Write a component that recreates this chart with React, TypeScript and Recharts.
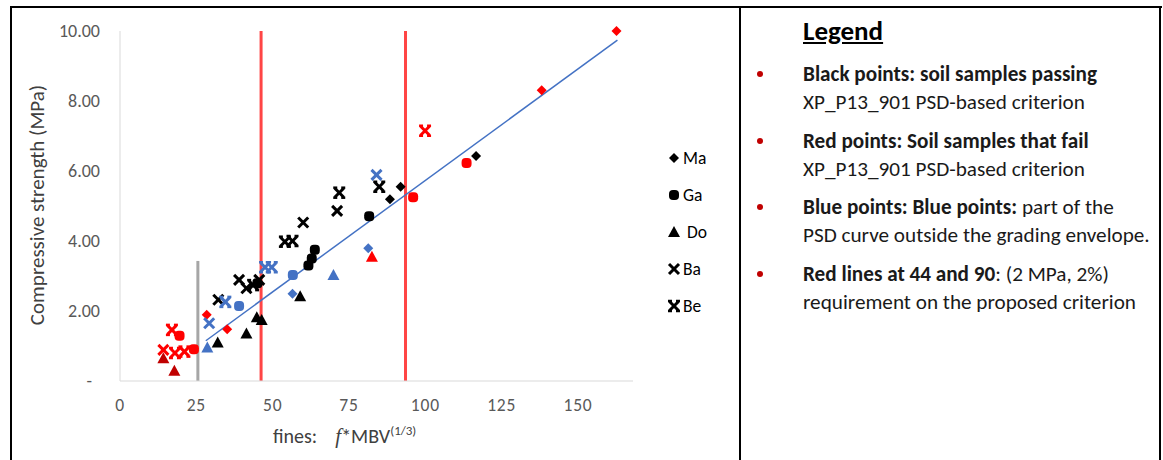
import React from 'react';
import { ReferenceLine, Scatter, ScatterChart, XAxis, YAxis } from 'recharts';

// group: 'pass' = black, 'fail' = red, 'failDark' = dark red, 'out' = blue
const maFines = [28.4, 35.1, 56.5, 81.3, 88.4, 91.9, 116.6, 138.1, 162.6];
const maStrength = [1.89, 1.48, 2.49, 3.79, 5.19, 5.55, 6.43, 8.31, 10.0];
const maGroup = ['fail', 'fail', 'out', 'out', 'pass', 'pass', 'pass', 'fail', 'fail'];

const gaFines = [19.5, 24.2, 39.0, 45.0, 56.6, 61.7, 62.8, 63.8, 81.6, 96.0, 113.5];
const gaStrength = [1.29, 0.91, 2.14, 2.79, 3.03, 3.3, 3.5, 3.75, 4.71, 5.25, 6.23];
const gaGroup = ['fail', 'fail', 'out', 'pass', 'out', 'pass', 'pass', 'pass', 'pass', 'fail', 'fail'];

const doFines = [14.2, 17.8, 28.6, 32.0, 41.4, 44.8, 46.4, 59.0, 69.9, 82.5];
const doStrength = [0.65, 0.29, 0.96, 1.1, 1.36, 1.82, 1.74, 2.42, 3.03, 3.55];
const doGroup = ['failDark', 'failDark', 'out', 'pass', 'pass', 'pass', 'pass', 'pass', 'out', 'fail'];

const baFines = [14.2, 29.2, 32.2, 39.0, 41.4, 45.6, 60.0, 71.1, 84.0];
const baStrength = [0.89, 1.65, 2.32, 2.89, 2.65, 2.89, 4.53, 4.86, 5.89];
const baGroup = ['fail', 'out', 'pass', 'pass', 'pass', 'pass', 'pass', 'pass', 'out'];

const beFines = [17.0, 18.0, 21.1, 34.5, 43.6, 47.5, 49.7, 54.0, 56.5, 71.8, 84.9, 99.9];
const beStrength = [1.46, 0.8, 0.84, 2.26, 2.74, 3.25, 3.25, 3.98, 4.0, 5.38, 5.55, 7.15];
const beGroup = ['fail', 'fail', 'fail', 'out', 'pass', 'out', 'out', 'pass', 'pass', 'pass', 'pass', 'fail'];

// linear trend (end points) and criterion lines, as drawn in the picture
const trendFines = [28.1, 162.9];
const trendStrength = [1.15, 9.74];
const criterionFines = [46.2, 93.5];
const gradingFines = 25.5;
const gradingTop = 3.43;

const xTicks = [0, 25, 50, 75, 100, 125, 150];
const yTicks = [0, 2, 4, 6, 8, 10];

const COLORS: Record<string, string> = {
  pass: '#000000',
  fail: '#ff0000',
  failDark: '#c00000',
  out: '#4472c4',
};

const FONT = 'Carlito, Calibri, "Open Sans", sans-serif';

function toPoints(xs: number[], ys: number[], gs: string[]) {
  return xs.map((x, i) => ({ x, y: ys[i], g: gs[i] }));
}

function drawMarker(kind: string, cx: number, cy: number, color: string) {
  if (kind === 'Ma') {
    const r = 5;
    return <polygon points={`${cx},${cy - r} ${cx + r},${cy} ${cx},${cy + r} ${cx - r},${cy}`} fill={color} />;
  }
  if (kind === 'Ga') {
    return <rect x={cx - 5} y={cy - 5} width={10} height={10} rx={4} fill={color} />;
  }
  if (kind === 'Do') {
    return <polygon points={`${cx},${cy - 6} ${cx + 6},${cy + 5} ${cx - 6},${cy + 5}`} fill={color} />;
  }
  if (kind === 'Ba') {
    const r = 5;
    return (
      <g stroke={color} strokeWidth={3}>
        <line x1={cx - r} y1={cy - r} x2={cx + r} y2={cy + r} />
        <line x1={cx - r} y1={cy + r} x2={cx + r} y2={cy - r} />
      </g>
    );
  }
  // Be: heavy x with flat serifs at its ends
  const r = 4.5;
  return (
    <g stroke={color}>
      <line x1={cx - r} y1={cy - r} x2={cx + r} y2={cy + r} strokeWidth={3} />
      <line x1={cx - r} y1={cy + r} x2={cx + r} y2={cy - r} strokeWidth={3} />
      <line x1={cx - r - 1.5} y1={cy - r - 0.5} x2={cx - r + 2.5} y2={cy - r - 0.5} strokeWidth={2.5} />
      <line x1={cx + r - 2.5} y1={cy - r - 0.5} x2={cx + r + 1.5} y2={cy - r - 0.5} strokeWidth={2.5} />
      <line x1={cx - r - 1.5} y1={cy + r + 0.5} x2={cx - r + 2.5} y2={cy + r + 0.5} strokeWidth={2.5} />
      <line x1={cx + r - 2.5} y1={cy + r + 0.5} x2={cx + r + 1.5} y2={cy + r + 0.5} strokeWidth={2.5} />
    </g>
  );
}

const shapeFor = (kind: string) => (props: any) => {
  const { cx, cy, payload } = props;
  if (cx == null || cy == null) return <g />;
  return drawMarker(kind, cx, cy, COLORS[payload.g]);
};

const YTick = (props: any) => {
  const { x, y, payload } = props;
  const v = payload.value;
  return (
    <text x={v === 0 ? x - 8 : x} y={y} dy={6} textAnchor="end" fontSize={18} fill="#595959" fontFamily={FONT}>
      {v === 0 ? '-' : v.toFixed(2)}
    </text>
  );
};

const SERIES = [
  { name: 'Ma', data: toPoints(maFines, maStrength, maGroup) },
  { name: 'Ga', data: toPoints(gaFines, gaStrength, gaGroup) },
  { name: 'Do', data: toPoints(doFines, doStrength, doGroup) },
  { name: 'Ba', data: toPoints(baFines, baStrength, baGroup) },
  { name: 'Be', data: toPoints(beFines, beStrength, beGroup) },
];

const legendLines = [
  { bold: 'Black points: soil samples passing', rest: '', mid: 74 },
  { bold: '', rest: 'XP_P13_901 PSD-based criterion', mid: 102 },
  { bold: 'Red points: Soil samples that fail', rest: '', mid: 141 },
  { bold: '', rest: 'XP_P13_901 PSD-based criterion', mid: 169 },
  { bold: 'Blue points: Blue points:', rest: ' part of the', mid: 207 },
  { bold: '', rest: 'PSD curve outside the grading envelope.', mid: 235 },
  { bold: 'Red lines at 44 and 90', rest: ': (2 MPa, 2%)', mid: 274 },
  { bold: '', rest: 'requirement on the proposed criterion', mid: 302 },
];
const bulletTops = [74, 141, 207, 274];

export default function App() {
  return (
    <div
      style={{
        position: 'absolute',
        left: 0,
        top: 0,
        width: 1163,
        height: 460,
        overflow: 'hidden',
        background: '#fff',
        fontFamily: FONT,
      }}
    >
      {/* frame */}
      <div style={{ position: 'absolute', left: 10, top: 6, width: 1152, height: 2, background: '#000' }} />
      <div style={{ position: 'absolute', left: 10, top: 6, width: 2, height: 460, background: '#000' }} />
      <div style={{ position: 'absolute', left: 739, top: 6, width: 2, height: 460, background: '#000' }} />
      <div style={{ position: 'absolute', left: 1159, top: 6, width: 2, height: 460, background: '#000' }} />

      <div style={{ position: 'absolute', left: 0, top: 0 }}>
        <ScatterChart width={740} height={460} margin={{ top: 31, right: 107, bottom: 49, left: 60 }}>
          <XAxis
            type="number"
            dataKey="x"
            domain={[0, 168]}
            ticks={xTicks}
            tickLine={false}
            tickSize={0}
            tickMargin={18}
            axisLine={{ stroke: '#d9d9d9' }}
            tick={{ fontSize: 17.5, fill: '#595959', fontFamily: FONT, letterSpacing: 0.8 }}
            height={30}
          />
          <YAxis
            type="number"
            dataKey="y"
            domain={[0, 10]}
            ticks={yTicks}
            tickLine={false}
            tickSize={0}
            tickMargin={20}
            axisLine={{ stroke: '#d9d9d9' }}
            tick={<YTick />}
            width={60}
          />
          <ReferenceLine
            segment={[
              { x: gradingFines, y: 0 },
              { x: gradingFines, y: gradingTop },
            ]}
            stroke="#a6a6a6"
            strokeWidth={3}
          />
          {criterionFines.map((f) => (
            <ReferenceLine
              key={f}
              segment={[
                { x: f, y: 0 },
                { x: f, y: 10 },
              ]}
              stroke="#ff4545"
              strokeWidth={3}
            />
          ))}
          <ReferenceLine
            segment={[
              { x: trendFines[0], y: trendStrength[0] },
              { x: trendFines[1], y: trendStrength[1] },
            ]}
            stroke="#4472c4"
            strokeWidth={1.5}
          />
          {SERIES.map((s) => (
            <Scatter
              key={s.name}
              name={s.name}
              data={s.data}
              shape={shapeFor(s.name)}
              isAnimationActive={false}
            />
          ))}
        </ScatterChart>
      </div>

      {/* axis titles */}
      <div
        style={{
          position: 'absolute',
          left: 37,
          top: 205,
          transform: 'translate(-50%, -50%) rotate(-90deg)',
          whiteSpace: 'nowrap',
          fontSize: 21,
          color: '#404040',
        }}
      >
        Compressive strength (MPa)
      </div>
      <div
        style={{
          position: 'absolute',
          left: 273,
          top: 423,
          whiteSpace: 'nowrap',
          fontSize: 20,
          color: '#404040',
        }}
      >
        fines:&nbsp;&nbsp;&nbsp;&nbsp;<i style={{ fontFamily: '"Liberation Serif", serif', fontSize: 21 }}>f</i>*MBV
        <sup style={{ fontSize: 13 }}>(1/3)</sup>
      </div>

      {/* series legend */}
      {SERIES.map((s, i) => (
        <div
          key={s.name}
          style={{
            position: 'absolute',
            left: 667,
            top: 147 + i * 37,
            display: 'flex',
            alignItems: 'center',
            fontSize: 17.5,
            lineHeight: '22px',
            color: '#000',
          }}
        >
          <svg width={14} height={22}>
            {drawMarker(s.name, 7, 11, '#000')}
          </svg>
          <span style={{ marginLeft: s.name === 'Do' ? 6 : 2 }}>{s.name}</span>
        </div>
      ))}

      {/* text legend */}
      <div
        style={{
          position: 'absolute',
          left: 803,
          top: 13,
          fontSize: 27,
          lineHeight: '36px',
          fontWeight: 700,
          textDecoration: 'underline',
          color: '#000',
        }}
      >
        Legend
      </div>
      {bulletTops.map((t) => (
        <div
          key={t}
          style={{ position: 'absolute', left: 757, top: t - 3, width: 6, height: 6, borderRadius: 3, background: '#c00000' }}
        />
      ))}
      {legendLines.map((l, i) => (
        <div
          key={i}
          style={{
            position: 'absolute',
            left: 803,
            top: l.mid - 14,
            fontSize: 21.2,
            lineHeight: '28px',
            color: '#1a1a1a',
            whiteSpace: 'nowrap',
          }}
        >
          {l.bold && <b>{l.bold}</b>}
          {l.rest}
        </div>
      ))}
    </div>
  );
}
